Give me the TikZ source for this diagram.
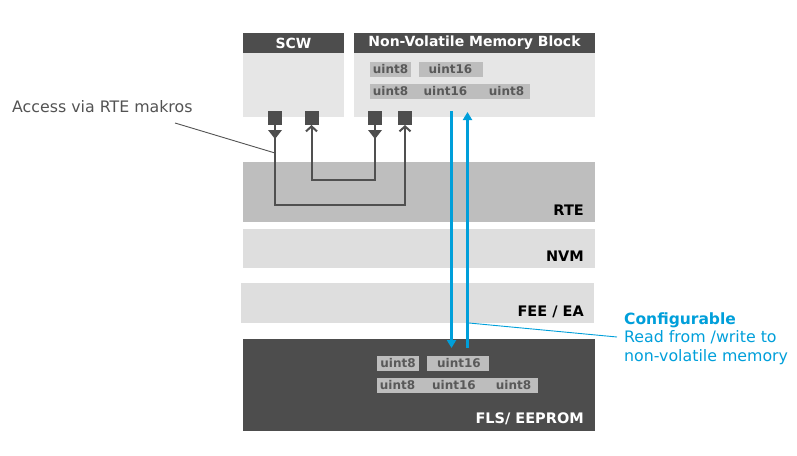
\documentclass[tikz,border=0pt]{standalone}
\usepackage{fontspec}
\setmainfont{DejaVu Sans}
\usetikzlibrary{arrows.meta}
\definecolor{hdr}{HTML}{4D4D4D}
\definecolor{lite}{HTML}{E6E6E6}
\definecolor{rtec}{HTML}{BEBEBE}
\definecolor{lay}{HTML}{DEDEDE}
\definecolor{ubox}{HTML}{BDBDBD}
\definecolor{utxt}{HTML}{595959}
\definecolor{blu}{HTML}{009FDA}
\definecolor{lnc}{HTML}{505050}
\definecolor{txt}{HTML}{1A1A1A}
\begin{document}
\begin{tikzpicture}[x=1pt,y=-1pt,
  blk/.style={fill=#1, draw=none, anchor=north west, inner sep=0pt, outer sep=0pt},
  hdrtxt/.style={text=white, font=\fontsize{14}{16}\selectfont\bfseries},
  laytxt/.style={anchor=base east, inner sep=0pt, font=\fontsize{14.5}{16}\selectfont\bfseries},
  ut/.style={text=utxt, inner sep=0pt, font=\fontsize{12}{14}\selectfont\bfseries},
  port/.style={fill=hdr, draw=none, anchor=north west, minimum size=14pt, inner sep=0pt, outer sep=0pt},
  conn/.style={draw=lnc, line width=2pt},
  blarrow/.style={draw=blu, line width=3pt, -{Triangle[length=8pt,width=9pt]}},
  lead/.style={draw=lnc, line width=0.9pt},
  bllead/.style={draw=blu, line width=0.9pt},
  note/.style={anchor=base west, inner sep=0pt, font=\fontsize{15.8}{18.5}\selectfont, align=left}
]
\useasboundingbox (0,0) rectangle (797,455);

% SCW
\node[blk=lite, minimum width=101pt, minimum height=64pt] (scwb) at (243,53) {};
\node[blk=hdr, minimum width=101pt, minimum height=20pt, hdrtxt] (scwh) at (243,33) {SCW};
% NV memory block
\node[blk=lite, minimum width=241pt, minimum height=64pt] (nvbb) at (354,53) {};
\node[blk=hdr, minimum width=241pt, minimum height=20pt, hdrtxt] (nvbh) at (354,33) {Non-Volatile\hspace{5pt}Memory\hspace{5pt}Block};
\node[blk=ubox, minimum width=41pt, minimum height=15pt] (nb1) at (370,62) {};
\node[blk=ubox, minimum width=64pt, minimum height=15pt] (nb2) at (419,62) {};
\node[blk=ubox, minimum width=160pt, minimum height=15pt] (nb3) at (370,84) {};
\node[ut] (nt1) at (390.5,69.5) {uint8};
\node[ut] (nt2) at (450.5,69.5) {uint16};
\node[ut] (nt3) at (390.5,91.5) {uint8};
\node[ut] (nt4) at (445.5,91.5) {uint16};
\node[ut] (nt5) at (506.5,91.5) {uint8};

% layers
\node[blk=rtec, minimum width=352pt, minimum height=60pt] (rte) at (243,162) {};
\node[laytxt] (rtel) at (584,215) {RTE};
\node[blk=lay, minimum width=352pt, minimum height=39pt] (nvm) at (243,229) {};
\node[laytxt] (nvml) at (584,261) {NVM};
\node[blk=lay, minimum width=353pt, minimum height=40pt] (fee) at (241,283) {};
\node[laytxt] (feel) at (584,316) {FEE / EA};
\node[blk=hdr, minimum width=352pt, minimum height=92pt] (fls) at (243,339) {};
\node[laytxt, text=white] (flsl) at (584,423) {FLS/ EEPROM};
\node[blk=ubox, minimum width=42pt, minimum height=15pt] (fb1) at (377,356) {};
\node[blk=ubox, minimum width=62pt, minimum height=15pt] (fb2) at (427,356) {};
\node[blk=ubox, minimum width=161pt, minimum height=15pt] (fb3) at (377,378) {};
\node[ut] (ft1) at (398,363.5) {uint8};
\node[ut] (ft2) at (459,363.5) {uint16};
\node[ut] (ft3) at (397.5,385.5) {uint8};
\node[ut] (ft4) at (454,385.5) {uint16};
\node[ut] (ft5) at (513.5,385.5) {uint8};

% ports
\node[port] (p1) at (268,111) {};
\node[port] (p2) at (304.5,111) {};
\node[port] (p3) at (368,111) {};
\node[port] (p4) at (398,111) {};
\fill[hdr] (p1.south) ++(-7,5) -- ++(14,0) -- ++(-7,9) -- cycle;
\fill[hdr] (p3.south) ++(-7,5) -- ++(14,0) -- ++(-7,9) -- cycle;
\draw[conn, -{Straight Barb[length=5pt,width=11pt]}] (p1.south) -- ++(0,80) -| (p4.south);
\draw[conn, -{Straight Barb[length=5pt,width=11pt]}] (p3.south) -- ++(0,55) -| (p2.south);

% blue arrows
\coordinate (bd1) at (451.5,111);
\coordinate (bd2) at (451.5,348);
\coordinate (bu1) at (467.5,348);
\coordinate (bu2) at (467.5,112);
\draw[blarrow] (bd1) -- (bd2);
\draw[blarrow] (bu1) -- (bu2);

% notes
\node[note, text=txt!75!white] (acc) at (12,112) {Access via RTE makros};
\coordinate (accA) at (175,123);
\coordinate (accB) at (275,153);
\draw[lead] (accA) -- (accB);

\node[note, text=blu] (cfg) at (624,361) {{\fontsize{15.5}{18.5}\selectfont\bfseries Configurable}\\Read from /write to\\non-volatile memory};
\coordinate (cfgA) at (469,323);
\coordinate (cfgB) at (617,337);
\draw[bllead] (cfgA) -- (cfgB);
\end{tikzpicture}
\end{document}
